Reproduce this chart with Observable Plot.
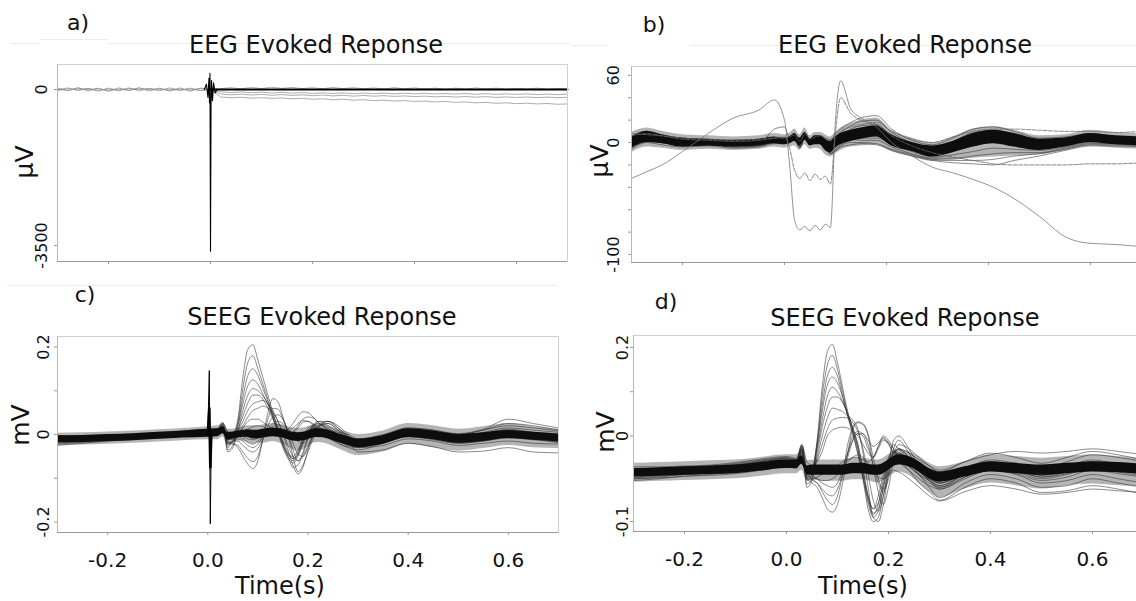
<!DOCTYPE html>
<html><head><meta charset="utf-8">
<script src="https://cdn.jsdelivr.net/npm/d3@7"></script>
<script src="https://cdn.jsdelivr.net/npm/@observablehq/plot@0.6"></script>
<style>
html,body{margin:0;padding:0;background:#fff;overflow:hidden;}
#root{position:relative;width:1136px;height:601px;overflow:hidden;font-family:"DejaVu Sans",Verdana,sans-serif;color:#111;}
.t{position:absolute;white-space:nowrap;transform:translate(-50%,-50%);line-height:1;}
.rot{transform:translate(-50%,-50%) rotate(-90deg);}
.hl{position:absolute;height:1px;background:#ececec;}
</style></head><body><div id="root"></div>
<script>
// ---------------- shared axis data ----------------
const X_DOMAIN = [-0.3, 0.7];
const X_TICKS = [-0.2, 0, 0.2, 0.4, 0.6];
const X_LABELS = ["-0.2", "0.0", "0.2", "0.4", "0.6"];

// ---------------- panel a (EEG, µV) ----------------
const T_A = [-0.3,-0.28,-0.26,-0.24,-0.22,-0.2,-0.18,-0.16,-0.14,-0.12,-0.1,-0.08,-0.06,-0.04,-0.02,0,
  0.02,0.04,0.06,0.08,0.1,0.12,0.14,0.16,0.18,0.2,0.22,0.24,0.26,0.28,0.3,0.32,0.34,0.36,0.38,0.4,
  0.42,0.44,0.46,0.48,0.5,0.52,0.54,0.56,0.58,0.6,0.62,0.64,0.66,0.68,0.7];
const A_TRACE1 = [35,-30,40,-35,30,-40,35,-25,40,-35,30,-30,35,-40,30,0,
  -170,-185,-175,-195,-185,-200,-190,-210,-200,-220,-210,-230,-220,-240,-230,-250,-240,-260,-250,-270,
  -260,-280,-270,-290,-280,-300,-290,-310,-300,-318,-308,-325,-315,-332,-325];
const A_TRACE2 = [-10,35,-25,20,-35,30,-20,35,-30,20,-25,35,-15,30,-20,0,
  -100,-120,-105,-125,-110,-130,-115,-135,-120,-140,-125,-145,-130,-150,-135,-150,-140,-155,-145,-160,
  -150,-165,-155,-170,-160,-172,-162,-178,-168,-180,-170,-182,-172,-185,-178];
const A_TRACE3 = [10,-20,30,-10,20,-30,10,-20,30,-10,20,-30,15,-20,25,0,
  -50,-70,-55,-75,-60,-80,-65,-85,-70,-90,-75,-90,-78,-95,-80,-95,-82,-98,-85,-100,
  -88,-102,-90,-105,-92,-108,-95,-110,-98,-112,-100,-115,-102,-118,-105];
const A_TRACE4 = [-25,15,-10,25,-20,10,-25,20,-10,25,-15,10,-20,15,-25,0,
  20,40,15,45,20,50,25,45,20,40,15,45,20,40,15,35,10,40,15,35,
  10,30,5,30,10,35,10,30,5,25,10,30,5,25,10];
const A_MAIN = [null,null,null,null,null,null,null,null,null,null,null,null,null,null,null,0,
  0,0,0,0,0,0,0,0,0,0,0,0,0,0,0,0,0,0,0,0,0,0,0,0,0,0,0,0,0,0,0,0,0,0,0];
const A_SPIKE_T = [-0.012,-0.008,-0.005,-0.003,-0.002,-0.001,0.0,0.001,0.002,0.004,0.006,0.009,0.013];
const A_SPIKE_V = [0,120,-180,250,-300,360,-3630,-400,200,-250,150,-80,0];
const A_Y_DOMAIN = [-3860, 560];
const A_Y_TICKS = [0, -3500];
const A_Y_LABELS = ["0", "-3500"];

// ---------------- panel b (EEG, µV) ----------------
const T_B = [-0.3,-0.27,-0.24,-0.2,-0.15,-0.1,-0.05,-0.02,0,0.01,0.02,0.03,0.04,0.05,0.06,0.07,0.08,0.09,
  0.1,0.11,0.13,0.15,0.18,0.21,0.25,0.29,0.33,0.37,0.41,0.45,0.5,0.55,0.6,0.65,0.7];
const B_CORE_LO = [-5,0,-1,-4,-3,-4,-3,-1,-2,-1,1,-3,2,-3,-2,-2,-7,-9,-5,-2,1,3,5,-3,-8,-13,-9,-4,-1,-4,-7,-4,0,-2,-3];
const B_CORE_HI = [5,10,7,4,3,2,3,5,4,5,8,4,9,3,6,6,3,1,5,8,11,13,15,7,0,-3,1,8,11,8,3,4,8,6,5];
const B_HALO_LO = [-9,-4,-5,-7,-6,-7,-6,-4,-5,-4,-3,-7,-2,-6,-5,-6,-11,-13,-10,-7,-4,-3,-2,-8,-13,-17,-16,-14,-13,-12,-11,-7,-3,-5,-6];
const B_HALO_HI = [9,13,10,7,6,5,6,8,7,8,12,7,13,6,9,9,7,5,9,13,17,20,22,11,4,0,5,12,14,11,6,7,11,9,8];
const B1 = [2,7,5,1,-1,-3,-2,12,14,4,7,0,8,2,4,6,4,2,8,12,18,22,24,12,2,-2,4,12,14,10,4,5,8,5,3];
const B2 = [-2,4,3,0,1,-2,-1,1,1,2,5,-3,6,0,3,4,0,-2,5,9,15,19,20,9,0,-5,1,9,11,8,2,3,7,4,2];
const B3 = [4,8,6,2,2,0,1,3,4,5,8,1,9,3,5,5,1,-4,2,6,12,15,16,6,-2,-7,-2,5,8,5,0,1,5,3,1];
const B4 = [-5,1,0,-2,-2,-4,-3,0,0,1,4,-4,5,-1,1,2,-2,-6,-1,3,8,11,12,3,-4,-9,-5,2,4,2,-3,-1,3,1,0];
const B5 = [0,3,2,-1,0,-2,0,2,2,3,6,-2,7,1,2,1,-4,-8,-4,0,5,7,8,0,-6,-11,-8,-3,0,-2,-5,-3,1,0,-1];
const B6 = [-6,0,-2,-4,-3,-5,-4,-1,-1,0,3,-5,4,-2,0,0,-5,-10,-6,-2,2,4,4,-2,-8,-13,-11,-8,-5,-6,-7,-4,0,-1,-2];
const B7 = [3,6,4,0,0,-1,1,3,3,4,7,0,8,2,3,2,-3,-6,-3,0,3,2,2,-4,-10,-14,-14,-12,-10,-9,-9,-5,-1,-1,-2];
const B8 = [-3,2,1,-2,-1,-3,-2,1,0,1,4,-3,5,0,1,0,-5,-9,-7,-3,0,0,-1,-6,-11,-15,-16,-16,-15,-12,-10,-6,-2,-2,-3];
const B9 = [1,4,3,0,1,-1,0,2,2,3,6,-1,7,1,2,3,-1,-4,0,4,10,12,14,5,-3,-6,-1,7,10,7,1,2,6,3,2];
const B10 = [-4,1,0,-3,-2,-4,-3,0,-1,0,3,-4,4,-1,0,-1,-6,-10,-8,-4,-2,-1,-2,-7,-12,-16,-18,-19,-20,-16,-12,-7,-3,-3,-4];
const B_OUT_A = [-32,-26,-20,-8,8,22,29,38,20,-20,-70,-78,-75,-79,-74,-78,-73,-76,20,55,30,22,14,0,-12,-22,-27,-33,-40,-50,-66,-84,-90,-91,-93];
const B_OUT_C = [6,8,6,3,2,1,2,4,5,-5,-25,-32,-27,-34,-28,-33,-30,-37,10,40,26,20,16,6,-3,-9,-13,-16,-19,-20,-20,-20,-19,-19,-18];
const B_OUT_D = [8,7,6,4,3,2,3,4,4,5,7,1,8,3,5,6,4,3,6,10,14,16,18,10,3,0,5,10,12,12,11,10,10,9,10];
const B_Y_DOMAIN = [-107.1, 67.9];
const B_Y_TICKS = [60, 0, -100];
const B_Y_LABELS = ["60", "0", "-100"];
const B_Y_MINOR = [60, 40, 20, 0, -20, -40, -60, -80, -100];

// ---------------- panels c & d (SEEG, values in µV, axis in mV) ----------------
const T_CD = [-0.3,-0.25,-0.2,-0.15,-0.1,-0.05,0,0.02,0.03,0.04,0.05,0.06,0.07,0.08,0.09,0.1,
  0.11,0.12,0.13,0.14,0.15,0.16,0.17,0.18,0.19,0.2,0.21,0.22,0.24,0.26,0.28,0.3,
  0.35,0.4,0.45,0.5,0.55,0.6,0.65,0.7];
const C_CORE_LO = [-19,-18,-16,-14,-11,-8,-6,-5,2,-13,-10,-8,-6,-7,-10,-10,-8,-6,-5,-6,-8,-12,-15,-16,-15,-12,-8,-7,-10,-18,-25,-30,-22,-7,-12,-20,-16,-9,-13,-17];
const C_CORE_HI = [-3,-2,0,2,5,8,12,13,18,5,6,8,10,11,10,10,12,14,15,14,12,8,5,4,5,8,12,13,10,2,-5,-10,-2,13,8,0,4,9,5,1];
const C_HALO_LO = [-25,-24,-22,-20,-17,-14,-12,-12,-5,-25,-20,-15,-15,-18,-22,-20,-20,-18,-16,-18,-22,-28,-35,-38,-35,-28,-20,-18,-22,-32,-42,-48,-40,-22,-30,-38,-32,-25,-30,-32];
const C_HALO_HI = [3,4,6,8,11,14,18,20,26,12,12,14,18,20,20,20,22,24,25,24,22,18,15,14,15,18,22,24,20,12,5,0,8,25,20,12,18,25,18,12];
const C1 = [-14,-10,-9,-6,-2,3,8, 10,24,6,2,35,130,195,205,170, 130,90,50,15,-20,-45,-55,-40,-10,15, 20,12,0,-15,-25,-28, -15,5,-2,-12,-5,10,2,-8];
const C2 = [-8,-12,-7,-4,0,2,6, 8,20,-10,-5,28,105,165,180,150, 115,80,45,10,-25,-50,-60,-45,-15,10, 18,10,-5,-20,-30,-35, -20,0,-8,-18,-12,0,-5,-15];
const C3 = [-18,-14,-10,-8,-5,0,5, 12,26,5,0,22,85,135,150,135, 105,75,40,5,-30,-55,-65,-50,-20,5, 15,8,-2,-15,-22,-25, -10,8,5,-5,0,8,5,-2];
const C4 = [-5,-8,-6,-2,2,5,10, 10,20,-20,-15,18,70,112,125,115, 92,68,38,5,-25,-45,-50,-35,-10,8, 12,5,-8,-20,-28,-30, -18,-5,-10,-20,-15,-5,-10,-18];
const C5 = [-20,-16,-12,-9,-4,-2,4, 6,15,-5,-8,10,55,90,105,100, 88,70,45,15,-20,-50,-75,-70,-40,-5, 20,25,15,0,-10,-20, -8,10,2,-5,5,15,10,5];
const C6 = [-10,-6,-4,0,3,6,12, 14,28,-35,-25,8,42,72,90,90, 80,60,35,10,-15,-40,-55,-45,-20,5, 15,12,2,-10,-20,-28, -15,0,-5,-15,-10,-2,-8,-12];
const C7 = [-12,-15,-10,-5,-3,0,6, 8,16,-40,-30,5,30,55,70,75, 78,70,55,30,0,-35,-70,-90,-75,-35, 0,20,25,10,-5,-15, -10,5,0,-10,0,5,-2,-10];
const C8 = [-2,-4,-3,0,4,8,12, 10,18,-10,-12,0,20,40,55,60, 65,60,50,30,5,-25,-50,-60,-45,-10, 20,30,20,5,-5,-12, -5,12,8,0,10,20,15,8];
const C9 = [-22,-18,-15,-10,-8,-4,2, 4,12,-20,-18,0,15,30,35,35, 28,20,12,5,5,12,25,42,52,50, 40,28,10,0,-5,-15, -12,5,-2,-8,2,12,5,-3];
const C10 = [-6,-8,-5,-2,0,4,8, 8,15,-5,-10,-5,5,12,18,20, 18,12,5,0,-5,-5,5,20,35,40, 38,28,12,0,-10,-25, -20,0,-8,-18,-10,0,-5,-12];
const C11 = [-15,-12,-8,-6,-2,2,6, 6,14,-15,-20,-30,-50,-68,-78,-60, -10,50,82,75,40,0,-50,-85,-70,-40, -10,15,30,20,0,-20, -15,0,-8,-15,-5,5,0,-8];
const C12 = [-10,-10,-6,-3,0,3,8, 10,18,-20,-22,-25,-40,-55,-62,-50, -10,35,60,58,35,5,-35,-60,-50,-25, 0,20,30,15,-5,-25, -20,-5,-12,-20,-15,-8,-12,-18];
const C13 = [-25,-20,-15,-12,-8,-4,3, 4,10,-25,-15,-15,-25,-35,-40,-32, -10,20,40,45,35,10,-20,-45,-50,-30, -5,15,25,10,-15,-40, -35,-20,-28,-40,-38,-30,-40,-42];
const C14 = [-4,-6,-3,0,2,5,10, 12,22,-30,-15,-10,-15,-25,-30,-22, -5,12,25,30,25,12,5,15,28,30, 25,18,8,0,-5,-15, -5,15,10,0,10,25,20,10];
const C15 = [-12,-10,-8,-5,-2,0,5, 8,16,-10,-8,-5,-10,-18,-22,-15, -5,8,18,22,18,8,-5,-15,-20,-10, 10,30,30,15,-5,-30, -25,-10,-15,-25,-20,-15,-20,-22];
const C16 = [-16,-14,-12,-8,-5,-2,4, 6,14,0,-5,-2,-5,-10,-12,-8, 0,8,12,15,12,10,15,25,32,30, 22,15,10,5,0,-10, 0,15,10,2,12,35,25,15];
const C_SPIKE_T = [0.0, 0.003, 0.005, 0.007];
const C_SPIKE_THIN = [0, 146, -204, 0];
const C_SPIKE_THICK = [0, 60, -75, 0];
const C_Y_DOMAIN = [-224, 224];
const C_Y_TICKS = [200, 0, -200];
const C_Y_LABELS = ["0.2", "0", "-0.2"];
const C_Y_MINOR = [200, 100, 0, -100, -200];

const D_CORE_LO = [-48,-47,-46,-45,-44,-41,-38,-38,-33,-45,-46,-46,-46,-46,-46,-46,-46,-45,-44,-44,-44,-45,-46,-46,-44,-40,-36,-34,-36,-42,-50,-54,-48,-42,-44,-46,-44,-42,-43,-45];
const D_CORE_HI = [-38,-37,-36,-35,-34,-31,-28,-28,-23,-35,-34,-34,-34,-34,-34,-34,-34,-33,-32,-32,-32,-33,-34,-34,-32,-28,-24,-22,-24,-30,-38,-42,-36,-30,-32,-34,-32,-30,-31,-33];
const D_HALO_LO = [-54,-53,-52,-51,-50,-47,-44,-44,-40,-52,-52,-52,-53,-53,-53,-53,-53,-52,-51,-51,-51,-52,-54,-55,-52,-48,-44,-42,-46,-55,-65,-72,-62,-55,-58,-62,-58,-56,-58,-60];
const D_HALO_HI = [-32,-31,-30,-29,-28,-25,-22,-22,-17,-29,-28,-28,-28,-28,-28,-28,-28,-27,-26,-26,-26,-27,-28,-28,-26,-22,-18,-16,-18,-24,-32,-36,-30,-22,-24,-26,-24,-22,-24,-27];
const D1 = [-46,-44,-42,-40,-37,-33,-30, -33,-16,-52,-45,-5,110,190,207,165, 110,55,15,-10,-40,-70,-85,-70,-45,-25, -18,-22,-32,-42,-50,-55, -42,-32,-36,-44,-40,-33,-37,-42];
const D2 = [-40,-42,-40,-38,-35,-30,-28, -30,-14,-45,-40,-8,90,160,182,150, 100,50,10,-15,-45,-75,-92,-80,-50,-28, -20,-25,-35,-46,-55,-60, -45,-35,-40,-48,-44,-36,-40,-45];
const D3 = [-48,-46,-44,-42,-39,-36,-32, -34,-18,-40,-38,-10,70,135,155,135, 90,45,5,-20,-50,-78,-95,-88,-60,-35, -25,-28,-36,-45,-52,-58, -44,-34,-38,-46,-42,-34,-38,-44];
const D4 = [-43,-42,-41,-39,-36,-32,-29, -31,-15,-56,-50,-12,55,115,133,120, 88,45,5,-22,-48,-72,-85,-78,-55,-30, -22,-30,-40,-50,-58,-62, -50,-40,-44,-52,-48,-40,-44,-48];
const D5 = [-50,-48,-45,-43,-40,-37,-33, -35,-20,-45,-42,-15,35,90,110,100, 78,50,15,-15,-50,-85,-100,-95,-70,-40, -20,-20,-30,-42,-50,-55, -45,-36,-40,-46,-38,-30,-34,-40];
const D6 = [-42,-40,-38,-37,-34,-30,-27, -29,-12,-60,-52,-20,20,65,88,88, 75,50,20,-10,-40,-70,-90,-85,-60,-30, -10,-15,-28,-40,-48,-52, -40,-30,-35,-42,-35,-28,-33,-38];
const D7 = [-47,-45,-43,-41,-38,-34,-30, -32,-18,-48,-45,-25,0,40,63,60, 55,45,36,15,-20,-60,-95,-100,-80,-45, -20,-15,-25,-40,-52,-60, -48,-38,-42,-50,-45,-38,-42,-47];
const D8 = [-44,-43,-41,-40,-37,-33,-29, -31,-15,-42,-40,-28,-10,15,36,40, 42,40,30,10,-15,-45,-75,-88,-70,-35, -5,0,-15,-35,-48,-55, -42,-32,-37,-45,-40,-32,-36,-42];
const D9 = [-41,-40,-38,-37,-34,-30,-26, -28,-12,-40,-38,-30,-18,0,13,18, 20,18,10,0,-10,-20,-25,-15,-5,-8, -15,-25,-35,-45,-52,-58, -45,-35,-40,-48,-42,-34,-38,-44];
const D10 = [-49,-47,-45,-43,-40,-36,-32, -34,-20,-50,-55,-60,-72,-85,-89,-80, -55,-20,15,30,25,0,-35,-65,-80,-60, -30,-20,-30,-45,-60,-72, -55,-45,-50,-60,-58,-50,-55,-60];
const D11 = [-45,-44,-42,-40,-37,-33,-30, -32,-16,-45,-50,-55,-65,-75,-80,-70, -45,-10,20,32,28,5,-25,-50,-62,-45, -15,-5,-20,-38,-52,-62, -48,-40,-45,-55,-52,-45,-50,-55];
const D12 = [-52,-50,-47,-45,-42,-38,-35, -36,-22,-50,-52,-55,-62,-68,-70,-62, -45,-25,-5,5,0,-15,-25,-12,0,-5, -15,-25,-40,-55,-65,-75, -60,-50,-55,-66,-64,-58,-62,-68];
const D13 = [-38,-38,-36,-35,-32,-28,-25, -27,-10,-38,-45,-50,-55,-58,-60,-55, -40,-20,0,10,5,-10,-35,-55,-65,-50, -25,-15,-25,-35,-45,-50, -38,-28,-32,-38,-30,-22,-25,-30];
const D14 = [-40,-39,-37,-36,-33,-29,-26, -28,-12,-44,-48,-50,-52,-52,-50,-45, -35,-20,-5,5,5,-5,-12,-8,-2,-8, -20,-15,-20,-28,-35,-40, -30,-22,-18,-20,-18,-15,-18,-22];
const D15 = [-50,-49,-47,-46,-44,-40,-36, -38,-24,-48,-50,-48,-45,-42,-40,-38, -35,-30,-25,-22,-25,-32,-40,-48,-50,-45, -40,-42,-50,-60,-70,-76, -65,-58,-62,-68,-66,-62,-64,-66];
const D16 = [-36,-36,-35,-34,-31,-27,-24, -26,-10,-30,-35,-38,-40,-42,-40,-35, -30,-28,-25,-25,-28,-30,-25,-12,-3,-10, -18,-10,-15,-25,-35,-42, -30,-20,-25,-32,-25,-18,-22,-28];
const D_Y_DOMAIN = [-111.6, 227];
const D_Y_TICKS = [200, 0, -100];
const D_Y_LABELS = ["0.2", "0", "-0.1"];
const D_Y_MINOR = [200, 100, 0, -100];
// the printed axis of panel d is stretched differently below and above 0
const D_NEG_STRETCH = 96 / 111.6, D_POS_STRETCH = 101 / 227;
const D_AXIS = v => v < 0 ? v * D_NEG_STRETCH : v * D_POS_STRETCH;

// ---------------- helpers ----------------
const root = document.getElementById("root");
const FONT = "DejaVu Sans";

function rows(T, arrs) {
  const out = [];
  arrs.forEach((a, k) => a.forEach((v, i) => out.push({t: T[i], v, id: k})));
  return out;
}
function band(T, lo, hi) { return T.map((t, i) => ({t, lo: lo[i], hi: hi[i]})); }
function tickRows(vals, labels) { return vals.map((v, i) => ({v, label: labels[i]})); }

function addText(txt, x, y, size, rot) {
  const d = document.createElement("div");
  d.className = "t" + (rot ? " rot" : "");
  d.style.left = x + "px"; d.style.top = y + "px"; d.style.fontSize = size + "px";
  d.textContent = txt;
  root.appendChild(d);
}
function addLine(x1, x2, y) {
  const d = document.createElement("div");
  d.className = "hl"; d.style.left = x1 + "px"; d.style.width = (x2 - x1) + "px"; d.style.top = y + "px";
  root.appendChild(d);
}

function panel({L, T, R, B, yDomain, yTransform, yTicks, yLabels, yMinor, yDx, xLabels, marks}) {
  const mL = 50, mR = 4, mT = 4, mB = 45;
  const fw = R - L, fh = B - T;
  const yScale = yTransform
    ? {domain: yDomain.map(yTransform), transform: yTransform, axis: null}
    : {domain: yDomain, axis: null};
  const all = [
    ...marks,
    Plot.frame({stroke: "#d0d0d0"}),
    Plot.ruleY([yDomain[0]], {stroke: "#9a9a9a"}),
    Plot.ruleX([X_DOMAIN[0]], {stroke: "#b8b8b8"}),
    Plot.ruleX(X_TICKS, {stroke: "#999", insetTop: fh - 3, dy: 3}),
    Plot.ruleY(yMinor || yTicks, {stroke: "#999", insetRight: fw - 3, dx: -3}),
    Plot.text(tickRows(yTicks, yLabels), {y: "v", text: "label", frameAnchor: "left", dx: yDx,
      rotate: -90, fontSize: 16, fontFamily: FONT, fill: "#111", textAnchor: "middle", lineAnchor: "middle"})
  ];
  if (xLabels) all.push(Plot.text(tickRows(X_TICKS, xLabels), {x: "v", text: "label", frameAnchor: "bottom",
      dy: 28, fontSize: 20, fontFamily: FONT, fill: "#111", lineAnchor: "middle"}));
  const svg = Plot.plot({
    width: fw + mL + mR, height: fh + mT + mB,
    marginLeft: mL, marginRight: mR, marginTop: mT, marginBottom: mB,
    x: {domain: X_DOMAIN, axis: null}, y: yScale,
    style: {background: "transparent", overflow: "visible"},
    marks: all
  });
  svg.style.position = "absolute";
  svg.style.left = (L - mL) + "px";
  svg.style.top = (T - mT) + "px";
  root.appendChild(svg);
}

const thin = {x: "t", y: "v", z: "id", stroke: "#2e2e2e", strokeWidth: 0.7, strokeOpacity: 0.8, curve: "monotone-x"};
const halo = {x: "t", y1: "lo", y2: "hi", fill: "#3a3a3a", fillOpacity: 0.38, curve: "monotone-x"};
const core = {x: "t", y1: "lo", y2: "hi", fill: "#0d0d0d", curve: "monotone-x"};

// faint separator lines of the original composite
addLine(10, 40, 43); addLine(40, 108, 39); addLine(108, 570, 43);
addLine(570, 608, 45); addLine(690, 1136, 45);
addLine(7, 556, 285);

// ---------- a ----------
panel({L: 57, T: 64, R: 567, B: 261, yDomain: A_Y_DOMAIN, yTicks: A_Y_TICKS, yLabels: A_Y_LABELS, yDx: -16,
  marks: [
    Plot.line(rows(T_A, [A_TRACE1, A_TRACE2, A_TRACE3, A_TRACE4]), {x: "t", y: "v", z: "id", stroke: "#8a8a8a", strokeWidth: 0.7}),
    Plot.line(rows(T_A, [A_MAIN]), {x: "t", y: "v", stroke: "#000", strokeWidth: 1.9}),
    Plot.line(rows(A_SPIKE_T, [A_SPIKE_V]), {x: "t", y: "v", stroke: "#000", strokeWidth: 1.1})
  ]});

// ---------- b ----------
panel({L: 631, T: 66, R: 1141, B: 262, yDomain: B_Y_DOMAIN, yTicks: B_Y_TICKS, yLabels: B_Y_LABELS, yMinor: B_Y_MINOR, yDx: -18,
  marks: [
    Plot.areaY(band(T_B, B_HALO_LO, B_HALO_HI), halo),
    Plot.line(rows(T_B, [B1, B2, B3, B4, B5, B6, B7, B8, B9, B10]), thin),
    Plot.areaY(band(T_B, B_CORE_LO, B_CORE_HI), core),
    Plot.line(rows(T_B, [B_OUT_A]), {...thin, stroke: "#777", strokeWidth: 0.8, strokeOpacity: 1}),
    Plot.line(rows(T_B, [B_OUT_C, B_OUT_D]), {...thin, stroke: "#666", strokeWidth: 0.8, strokeOpacity: 1, strokeDasharray: "4,1.5"})
  ]});

// ---------- c ----------
panel({L: 57, T: 336, R: 558, B: 532, yDomain: C_Y_DOMAIN, yTicks: C_Y_TICKS, yLabels: C_Y_LABELS, yMinor: C_Y_MINOR, yDx: -14,
  xLabels: X_LABELS,
  marks: [
    Plot.areaY(band(T_CD, C_HALO_LO, C_HALO_HI), halo),
    Plot.line(rows(T_CD, [C1, C2, C3, C4, C5, C6, C7, C8, C9, C10, C11, C12, C13, C14, C15, C16]), thin),
    Plot.areaY(band(T_CD, C_CORE_LO, C_CORE_HI), core),
    Plot.line(rows(C_SPIKE_T, [C_SPIKE_THIN]), {x: "t", y: "v", stroke: "#000", strokeWidth: 1}),
    Plot.line(rows(C_SPIKE_T, [C_SPIKE_THICK]), {x: "t", y: "v", stroke: "#000", strokeWidth: 2.6})
  ]});

// ---------- d ----------
panel({L: 633, T: 335, R: 1143, B: 531, yDomain: D_Y_DOMAIN, yTransform: D_AXIS, yTicks: D_Y_TICKS, yLabels: D_Y_LABELS, yMinor: D_Y_MINOR, yDx: -11,
  xLabels: X_LABELS,
  marks: [
    Plot.areaY(band(T_CD, D_HALO_LO, D_HALO_HI), halo),
    Plot.line(rows(T_CD, [D1, D2, D3, D4, D5, D6, D7, D8, D9, D10, D11, D12, D13, D14, D15, D16]), thin),
    Plot.areaY(band(T_CD, D_CORE_LO, D_CORE_HI), core)
  ]});

// ---------- texts ----------
addText("a)", 78, 23, 22);
addText("EEG Evoked Reponse", 316, 45, 24);
addText("b)", 654, 25, 22);
addText("EEG Evoked Reponse", 905, 45, 24);
addText("c)", 85, 295, 22);
addText("SEEG Evoked Reponse", 322, 317, 24);
addText("d)", 666, 302, 22);
addText("SEEG Evoked Reponse", 905, 318, 24);
addText("μV", 24, 162, 25, true);
addText("μV", 599, 161, 25, true);
addText("mV", 20, 425, 25, true);
addText("mV", 605, 432, 25, true);
addText("Time(s)", 280, 586, 24);
addText("Time(s)", 863, 586, 24);
</script></body></html>
